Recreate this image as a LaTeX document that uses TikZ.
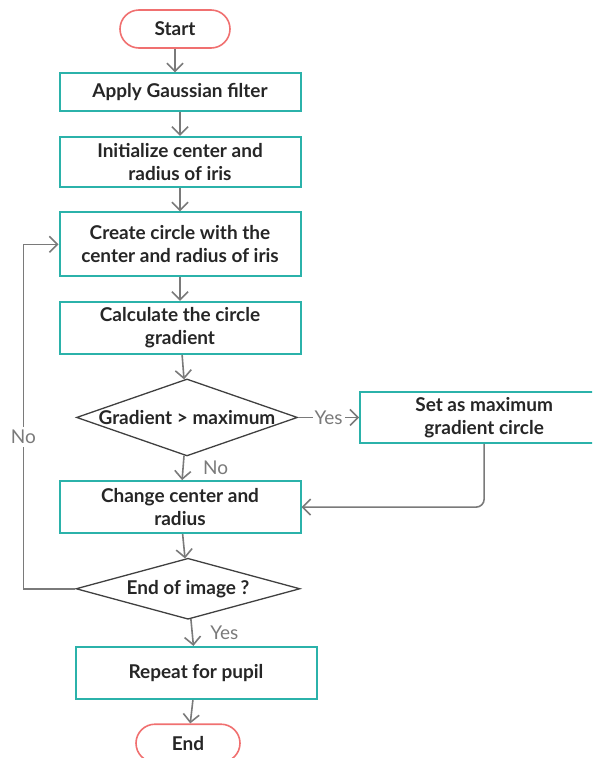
\documentclass[tikz,border=0pt]{standalone}
\usepackage{fontspec}
\setmainfont{Lato}
\usepackage{xcolor}
\usetikzlibrary{positioning,arrows.meta,shapes.geometric}
\definecolor{boxteal}{RGB}{43,178,170}
\definecolor{termred}{RGB}{240,112,112}
\definecolor{linegray}{RGB}{122,122,122}

\begin{document}
\begin{tikzpicture}[
    font=\fontsize{19}{23}\selectfont\bfseries,
    node distance=23.5pt,
    proc/.style={rectangle,draw=boxteal,line width=2pt,minimum width=241pt,minimum height=52pt,align=center,text=black!85,inner sep=2pt},
    term/.style={rectangle,rounded corners=19pt,draw=termred,line width=1.6pt,minimum height=38pt,text=black!85},
    dec/.style={diamond,draw=black!75,line width=1.3pt,inner sep=0pt,text=black!85},
    flow/.style={draw=linegray,line width=1.6pt,-{Straight Barb[length=8pt,width=16pt]}},
    lbl/.style={text=linegray,font=\fontsize{19}{20}\selectfont}
  ]
    \useasboundingbox (0,0) rectangle (592pt,-758pt);
    \clip (0,0) rectangle (592pt,-758pt);

    \node[term,minimum width=110pt] at (175pt,-29pt) (s) {Start};
    \node[proc,minimum height=38pt,below=of s,xshift=5pt] (p1) {Apply Gaussian filter};
    \node[proc,minimum height=50pt,below=of p1] (p2) {Initialize center and\\radius of iris};
    \node[proc,minimum height=64pt,below=of p2] (p3) {Create circle with the\\center and radius of iris};
    \node[proc,below=of p3] (p4) {Calculate the circle\\gradient};
    \node[dec,minimum width=221pt,minimum height=77pt,below=of p4,xshift=7pt] (d1) {\makebox[0pt]{Gradient > maximum}};
    \node[proc,minimum width=248pt,minimum height=51pt,right=61pt of d1] (p5) {Set as maximum\\gradient circle};
    \node[proc,below=of d1,xshift=-7pt] (p6) {Change center and\\radius};
    \node[dec,minimum width=224pt,minimum height=61pt,below=of p6,xshift=8pt] (d2) {\makebox[0pt]{End of image ?}};
    \node[proc,below=26pt of d2,xshift=8pt] (p7) {Repeat for pupil};
    \node[term,minimum width=104pt,below=of p7,xshift=-8pt] (e) {End};

    \draw[flow] (s) -- (s |- p1.north);
    \draw[flow] (p1) -- (p2);
    \draw[flow] (p2) -- (p3);
    \draw[flow] (p3) -- (p4);
    \draw[flow] (p4) -- (d1);
    \draw[flow] (d1) -- node[lbl,fill=white,inner sep=2pt] {Yes} (p5);
    \draw[flow] (d1) -- node[lbl,right=16pt] {No} (p6);
    \draw[flow,rounded corners=8pt] (p5) |- (p6);
    \draw[flow] (p6) -- (d2);
    \draw[flow] (d2.west) -- ++(-52pt,0) |- node[lbl,fill=white,pos=.22] {No} (p3.west);
    \draw[flow] (d2) -- node[lbl,right=14pt] {Yes} (p7);
    \draw[flow] (p7) -- (e);
  \end{tikzpicture}
\end{document}
